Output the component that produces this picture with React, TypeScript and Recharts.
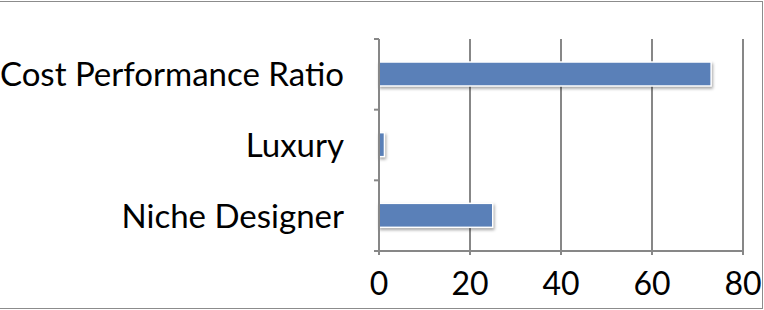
import { BarChart, Bar, XAxis, YAxis, CartesianGrid } from "recharts"

const categories = ["Cost Performance Ratio", "Luxury", "Niche Designer"]
const shares = [73, 1.2, 25]
const xTicks = [0, 20, 40, 60, 80]

const data = categories.map((name, i) => ({ name, value: shares[i] }))

const FONT = "Lato, 'Open Sans', sans-serif"
const AXIS = "#878787"

function CategoryTick(props: any) {
  const { x, y, payload, index, visibleTicksCount } = props
  const half = payload.offset || 0
  const axisX = x + 8
  return (
    <g>
      <line x1={axisX - 5} x2={axisX} y1={y - half} y2={y - half} stroke={AXIS} strokeWidth={2} />
      {index === visibleTicksCount - 1 && (
        <line x1={axisX - 5} x2={axisX} y1={y + half} y2={y + half} stroke={AXIS} strokeWidth={2} />
      )}
      <text x={axisX - 35} y={y} dy="0.36em" textAnchor="end" fontFamily={FONT} fontSize={33} fill="#000">
        {payload.value}
      </text>
    </g>
  )
}

function ValueTick(props: any) {
  const { x, y, payload } = props
  return (
    <text x={x} y={y} dy={38} textAnchor="middle" fontFamily={FONT} fontSize={32} fill="#000">
      {payload.value}
    </text>
  )
}

function ShadowBar(props: any) {
  const { x, y, width, height } = props
  return (
    <rect
      x={x}
      y={y}
      width={Math.max(width, 0)}
      height={height}
      fill="#5a80b8"
      stroke="#ffffff"
      strokeWidth={1.5}
      style={{ filter: "drop-shadow(1px 2px 1.5px rgba(0,0,0,0.35))" }}
    />
  )
}

export default function App() {
  return (
    <div style={{ position: "fixed", left: 0, top: 0, width: 764, height: 310, background: "#fff" }}>
      <BarChart
        width={764}
        height={310}
        data={data}
        layout="vertical"
        margin={{ top: 39, right: 21, bottom: 0, left: 0 }}
        barSize={24}
      >
        <CartesianGrid horizontal={false} stroke={AXIS} strokeWidth={2} />
        <XAxis
          type="number"
          domain={[0, 80]}
          ticks={xTicks}
          height={59}
          stroke={AXIS}
          strokeWidth={2}
          tickSize={4}
          tickLine={{ stroke: AXIS, strokeWidth: 2 }}
          tick={<ValueTick />}
        />
        <YAxis
          type="category"
          dataKey="name"
          width={379}
          stroke={AXIS}
          strokeWidth={2}
          tickLine={false}
          tick={<CategoryTick />}
        />
        <Bar dataKey="value" isAnimationActive={false} shape={<ShadowBar />} />
      </BarChart>
      <div
        style={{
          position: "absolute",
          left: -2,
          top: 1,
          width: 763,
          height: 306,
          border: "1px solid #8c8c8c",
          pointerEvents: "none",
        }}
      />
    </div>
  )
}
